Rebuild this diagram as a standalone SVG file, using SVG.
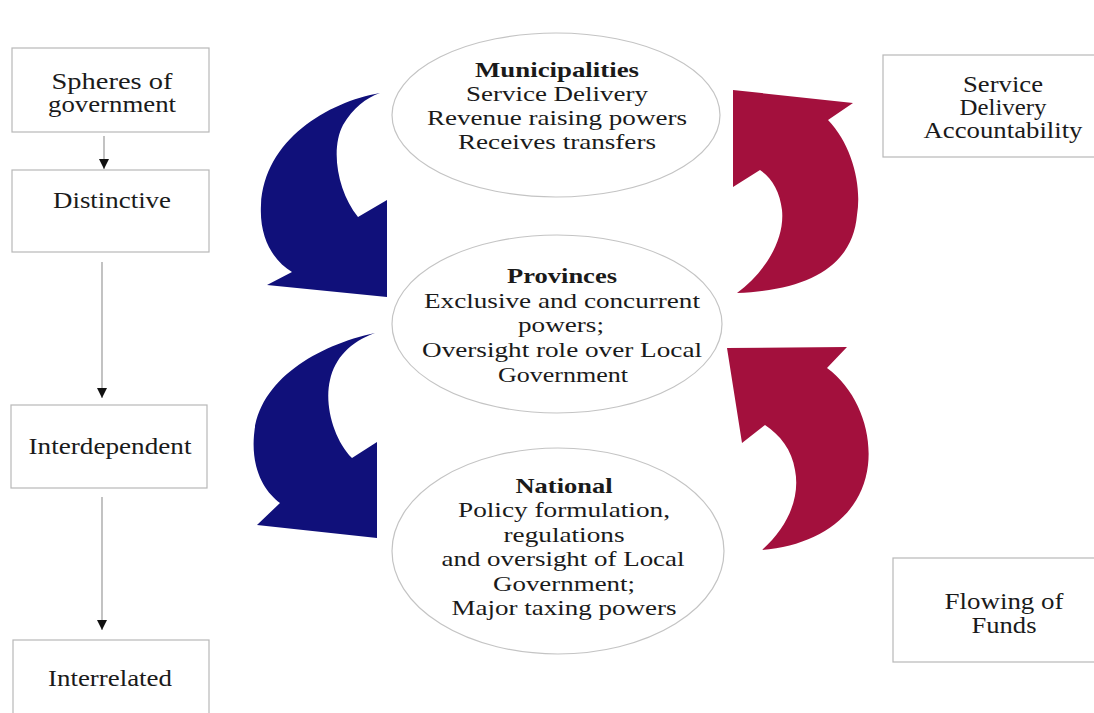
<svg xmlns="http://www.w3.org/2000/svg" width="1094" height="713" viewBox="0 0 1094 713">
<style>
.box{fill:#fff;stroke:#b8b8b8;stroke-width:1.2}
.ell{fill:#fff;stroke:#c4c4c4;stroke-width:1.2}
.t{font-family:"Liberation Serif","Times New Roman",serif;font-size:23px;fill:#1a1a1a;text-anchor:middle}
.e{font-family:"Liberation Serif","Times New Roman",serif;font-size:21px;fill:#1a1a1a;text-anchor:middle}
.b{font-weight:bold}
.ln{stroke:#9a9a9a;stroke-width:1.2;fill:none}
.blue{fill:#10107a}
.red{fill:#a3103d}
</style>
<defs>
<marker id="ah" viewBox="0 0 10 10" refX="10" refY="5" markerWidth="10" markerHeight="10" markerUnits="userSpaceOnUse" orient="auto">
<path d="M0,0 L10,5 L0,10 Z" fill="#111"/>
</marker>
</defs>
<rect width="1094" height="713" fill="#fff"/>

<g id="connectors">
<line class="ln" x1="104" y1="136" x2="104" y2="169" marker-end="url(#ah)"/>
<line class="ln" x1="102" y1="262" x2="102" y2="398" marker-end="url(#ah)"/>
<line class="ln" x1="102" y1="497" x2="102" y2="630" marker-end="url(#ah)"/>
<path id="blue-arrow-1" class="blue" d="M380,93 C328,102 264,140 261,205 C259,240 275,262 292,272 L267,285 L387,297 L387,200 L358,217 C338,192 330,150 343,125 C353,108 366,98 380,93 Z"/>
<path id="blue-arrow-2" class="blue" d="M375,333 C318,345 258,380 254,435 C251,470 265,492 280,503 L257,525 L377,538 L377,442 L352,458 C334,440 324,405 330,380 C335,358 350,342 375,333 Z"/>
<path id="red-arrow-1" class="red" d="M733,90 L853,103 L828,120 C852,145 862,185 857,215 C853,262 815,290 737,293 C765,272 785,240 782,210 C780,192 772,178 760,170 L733,187 Z"/>
<path id="red-arrow-2" class="red" d="M727,348 L847,347 L827,368 C857,390 872,430 868,465 C862,515 820,545 762,550 C790,525 800,495 795,470 C792,450 780,435 765,425 L742,443 Z"/>
</g>

<g id="spheres">
<rect class="box" x="12" y="48" width="197" height="84"/>
<text class="t" x="112" y="89" textLength="121" lengthAdjust="spacingAndGlyphs">Spheres of</text>
<text class="t" x="112" y="112" textLength="128" lengthAdjust="spacingAndGlyphs">government</text>
</g>
<g id="distinctive">
<rect class="box" x="12" y="170" width="197" height="82"/>
<text class="t" x="112" y="208" textLength="118" lengthAdjust="spacingAndGlyphs">Distinctive</text>
</g>
<g id="interdependent">
<rect class="box" x="11" y="405" width="196" height="83"/>
<text class="t" x="110" y="454" textLength="163" lengthAdjust="spacingAndGlyphs">Interdependent</text>
</g>
<g id="interrelated">
<rect class="box" x="13" y="640" width="196" height="90"/>
<text class="t" x="110" y="686" textLength="124" lengthAdjust="spacingAndGlyphs">Interrelated</text>
</g>

<g id="municipalities">
<ellipse class="ell" cx="556" cy="115" rx="164" ry="82"/>
<text class="e b" x="557" y="77" textLength="164" lengthAdjust="spacingAndGlyphs">Municipalities</text>
<text class="e" x="557" y="101" textLength="182" lengthAdjust="spacingAndGlyphs">Service Delivery</text>
<text class="e" x="557" y="125" textLength="260" lengthAdjust="spacingAndGlyphs">Revenue raising powers</text>
<text class="e" x="557" y="149" textLength="198" lengthAdjust="spacingAndGlyphs">Receives transfers</text>
</g>
<g id="provinces">
<ellipse class="ell" cx="557" cy="324" rx="165" ry="89"/>
<text class="e b" x="562" y="283" textLength="110" lengthAdjust="spacingAndGlyphs">Provinces</text>
<text class="e" x="562" y="308" textLength="276" lengthAdjust="spacingAndGlyphs">Exclusive and concurrent</text>
<text class="e" x="561" y="332" textLength="86" lengthAdjust="spacingAndGlyphs">powers;</text>
<text class="e" x="562" y="357" textLength="280" lengthAdjust="spacingAndGlyphs">Oversight role over Local</text>
<text class="e" x="563" y="382" textLength="130" lengthAdjust="spacingAndGlyphs">Government</text>
</g>
<g id="national">
<ellipse class="ell" cx="558" cy="551" rx="166" ry="103"/>
<text class="e b" x="564" y="493" textLength="97" lengthAdjust="spacingAndGlyphs">National</text>
<text class="e" x="564" y="517" textLength="212" lengthAdjust="spacingAndGlyphs">Policy formulation,</text>
<text class="e" x="564" y="542" textLength="121" lengthAdjust="spacingAndGlyphs">regulations</text>
<text class="e" x="563" y="566" textLength="243" lengthAdjust="spacingAndGlyphs">and oversight of Local</text>
<text class="e" x="564" y="591" textLength="142" lengthAdjust="spacingAndGlyphs">Government;</text>
<text class="e" x="564" y="615" textLength="225" lengthAdjust="spacingAndGlyphs">Major taxing powers</text>
</g>

<g id="service-delivery-accountability">
<rect class="box" x="883" y="55" width="220" height="102"/>
<text class="t" x="1003" y="92" textLength="80" lengthAdjust="spacingAndGlyphs">Service</text>
<text class="t" x="1003" y="115" textLength="87" lengthAdjust="spacingAndGlyphs">Delivery</text>
<text class="t" x="1003" y="138" textLength="159" lengthAdjust="spacingAndGlyphs">Accountability</text>
</g>
<g id="flowing-of-funds">
<rect class="box" x="893" y="558" width="210" height="104"/>
<text class="t" x="1004" y="609" textLength="119" lengthAdjust="spacingAndGlyphs">Flowing of</text>
<text class="t" x="1004" y="633" textLength="65" lengthAdjust="spacingAndGlyphs">Funds</text>
</g>
</svg>
